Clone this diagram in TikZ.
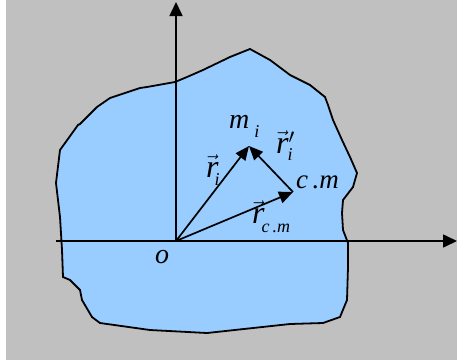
\documentclass[tikz,border=0pt]{standalone}
\usepackage{fontspec}
\setmainfont{Liberation Serif}
\usetikzlibrary{arrows.meta}
\definecolor{bggrey}{RGB}{192,192,192}
\definecolor{blobblue}{RGB}{153,204,255}
\newcommand{\vrr}{\rlap{\kern-1pt\raisebox{5pt}{\fontsize{34}{34}\selectfont$\vec{\phantom{r}}$}}r}
\newcommand{\sub}[2][-8pt]{\raisebox{#1}{\fontsize{18}{18}\selectfont\itshape #2}}
\begin{document}
\begin{tikzpicture}[x=1pt,y=-1pt,
  axis/.style={line width=1.6pt,-{Triangle[length=14pt,width=13pt]}},
  vecarrow/.style={line width=1.7pt,-{Triangle[length=14pt,width=12pt]}},
  lab/.style={font=\fontsize{32}{32}\selectfont\itshape,inner sep=0pt,anchor=base west}]
\useasboundingbox (0,0) rectangle (457,362);
\fill[white] (0,0) rectangle (457,362);
\fill[bggrey] (6,0) rectangle (457,360);
\draw[line width=1.8pt,fill=blobblue]
  (250,49) -- (270,60) -- (290,75) -- (310,85) -- (325,97) -- (328,105) -- (333,120) -- (342,140) -- (350,157) -- (357,173)
  -- (353,187) -- (343,200) -- (342,213) -- (343,230) -- (348,243) -- (348,267)
  -- (347,300) -- (340,317) -- (323,323) -- (290,324) -- (207,333) -- (150,330) -- (100,323)
  -- (92,317) -- (82,300) -- (80,290) -- (70,280) -- (63,277) -- (62,250)
  -- (60,217) -- (56,183) -- (60,150) -- (78,125) -- (80,124) -- (97,107) -- (110,98)
  -- (140,88) -- (147,87) -- (175,82) -- (187,77) -- (203,70) -- (230,57) -- cycle;
\coordinate (O) at (176,241);
\coordinate (ytip) at (176,2);
\coordinate (xstart) at (56,241);
\coordinate (xtip) at (457,241);
\coordinate (m) at (249,146);
\coordinate (cm) at (293,192);
\draw[axis] (O) -- (ytip);
\draw[axis] (xstart) -- (xtip);
\draw[vecarrow] (O) -- (m);
\draw[vecarrow] (O) -- (cm);
\draw[vecarrow] (cm) -- (m);
\node[lab,font=\fontsize{28}{28}\selectfont\itshape] (lm) at (229,128) {m\kern5pt\sub[-9pt]{i}};
\node[lab] (lri) at (206,177) {\vrr\kern-4pt\sub[-8pt]{i}};
\node[lab] (lrp) at (276,153) {\vrr\rlap{$'$}\kern-1pt\sub[-7pt]{i}};
\node[lab,font=\fontsize{27}{27}\selectfont\itshape] (lcm) at (296,188) {c\,.m};
\node[lab] (lrcm) at (252,223) {\vrr\kern-3pt\sub[-9pt]{c\,.m}};
\node[lab,font=\fontsize{28}{28}\selectfont\itshape] (lo) at (155,263) {o};
\end{tikzpicture}
\end{document}
